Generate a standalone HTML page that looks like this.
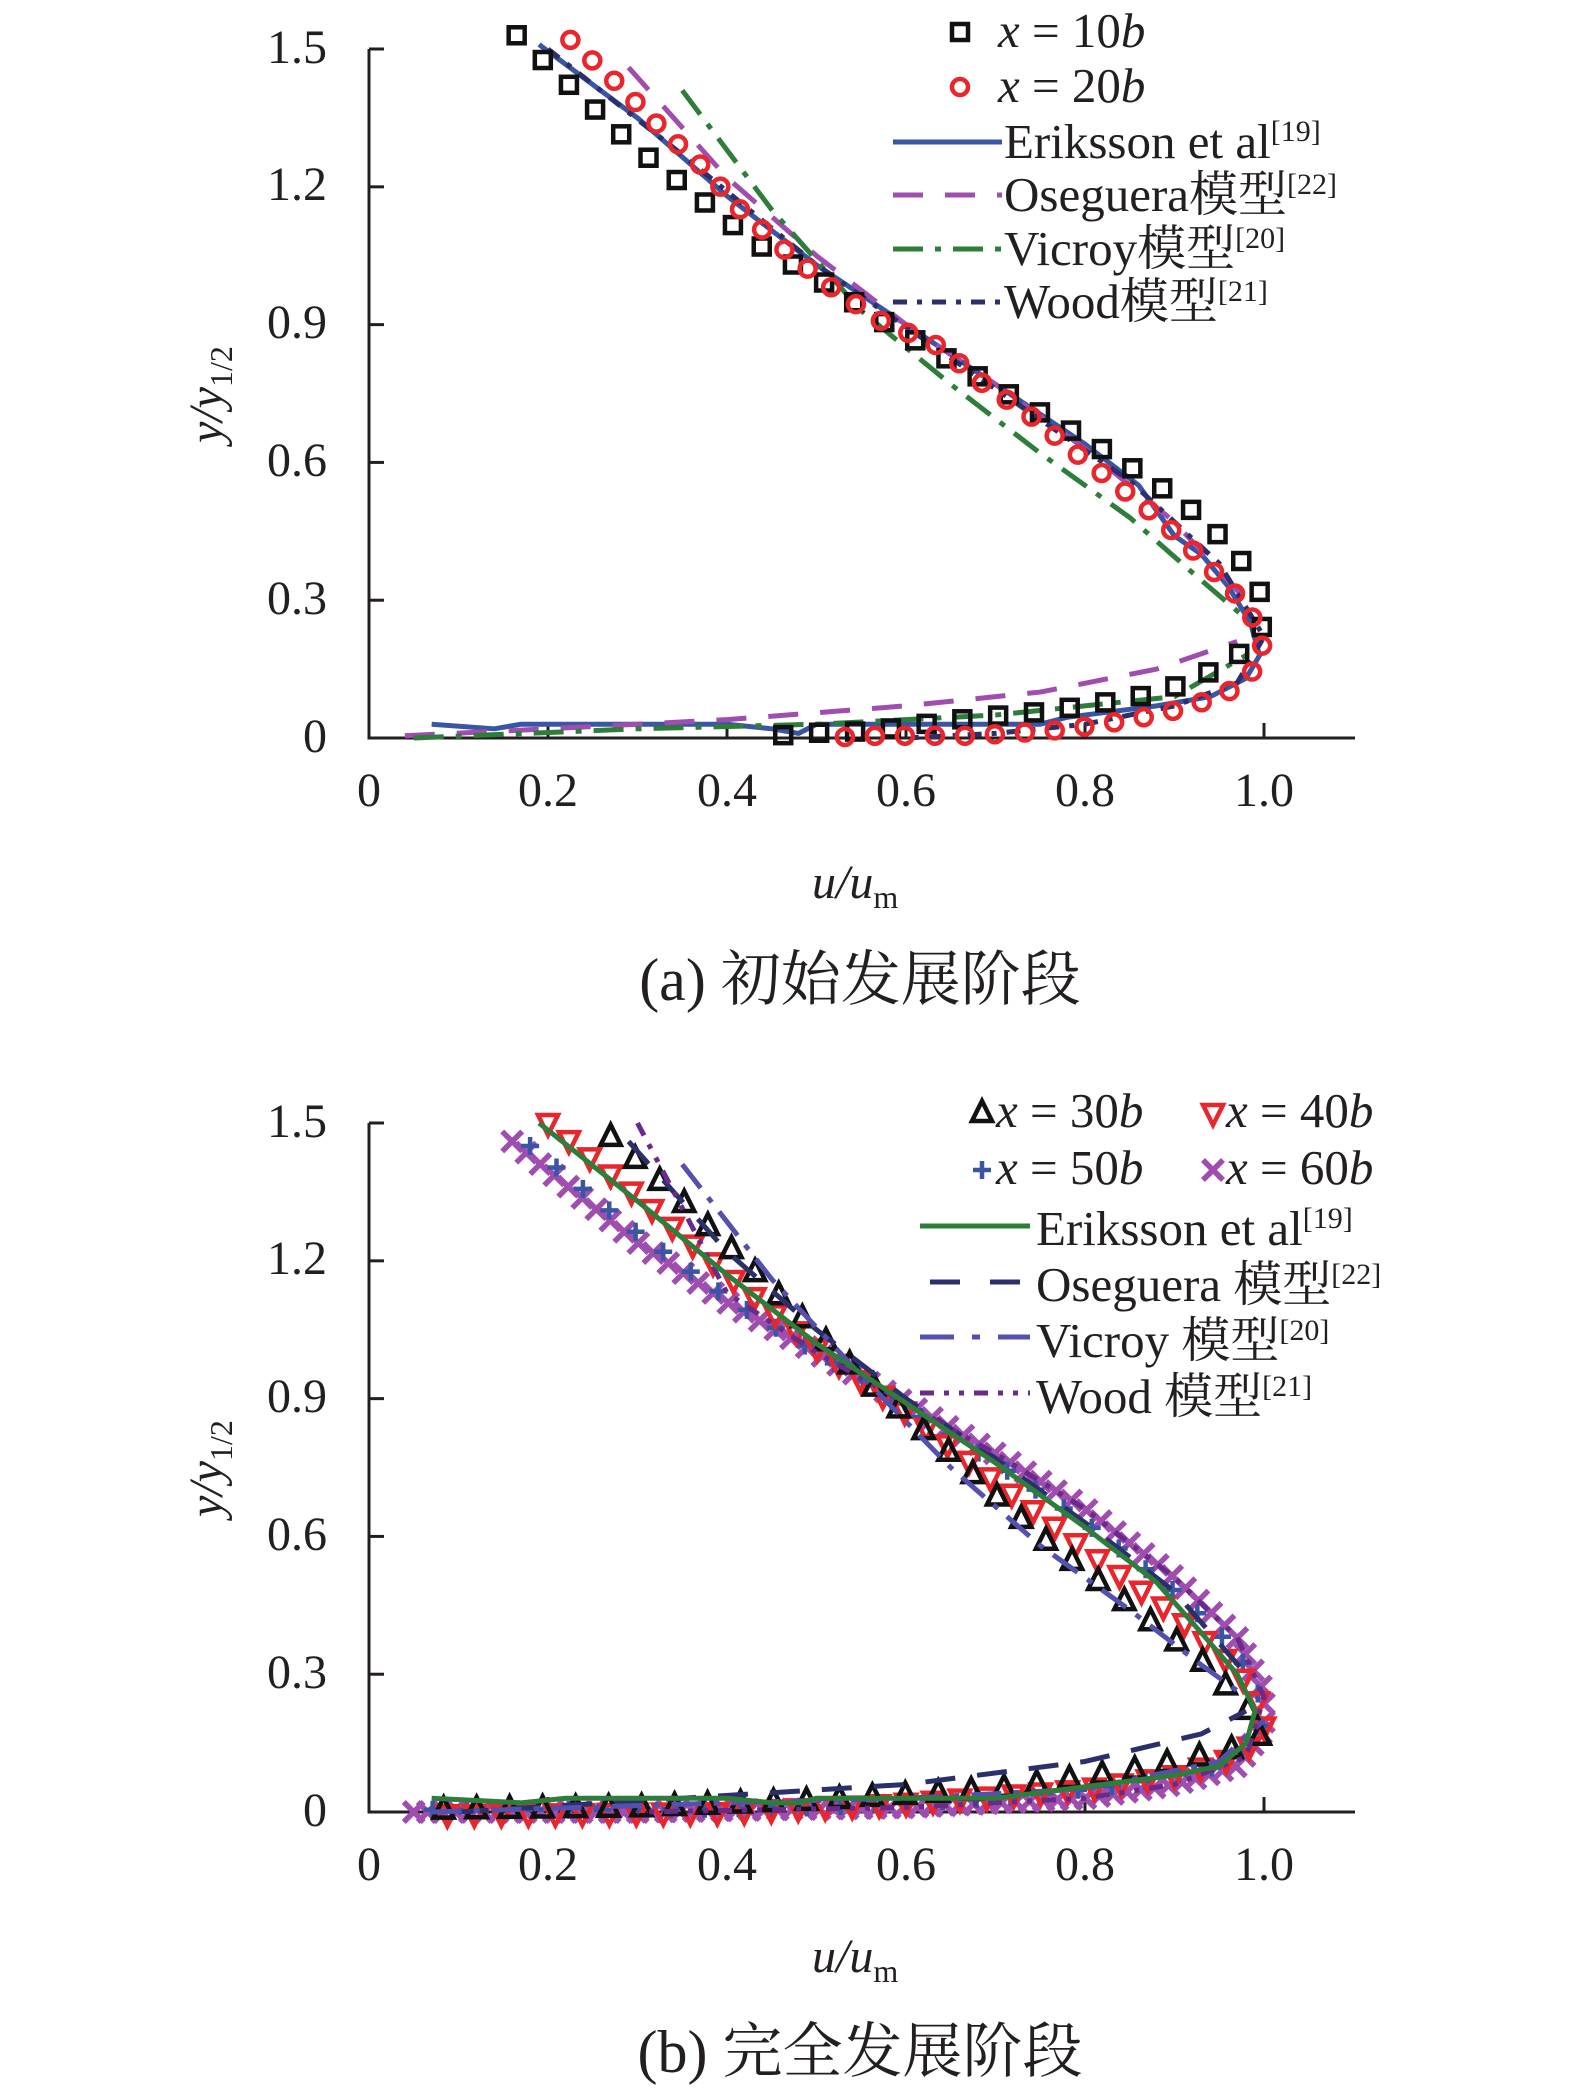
<!DOCTYPE html>
<html><head><meta charset="utf-8"><style>
html,body{margin:0;padding:0;background:#fff}
svg{display:block}
text{font-family:"Liberation Serif","Noto Serif CJK SC",serif;fill:#231f20}
</style></head><body>
<svg id="s" width="1575" height="2099" viewBox="0 0 1575 2099" xmlns="http://www.w3.org/2000/svg">
<g id="axes"></g>
<g font-size="48">
<text x="327" y="63" text-anchor="end">1.5</text>
<text x="327" y="200" text-anchor="end">1.2</text>
<text x="327" y="338" text-anchor="end">0.9</text>
<text x="327" y="476" text-anchor="end">0.6</text>
<text x="327" y="614" text-anchor="end">0.3</text>
<text x="327" y="752" text-anchor="end">0</text>
<text x="369" y="806" text-anchor="middle">0</text>
<text x="548" y="806" text-anchor="middle">0.2</text>
<text x="727" y="806" text-anchor="middle">0.4</text>
<text x="906" y="806" text-anchor="middle">0.6</text>
<text x="1085" y="806" text-anchor="middle">0.8</text>
<text x="1264" y="806" text-anchor="middle">1.0</text>
<text x="812" y="898" font-style="italic">u/u<tspan font-style="normal" font-size="32" dy="10">m</tspan></text>
<text transform="translate(222,443) rotate(-90)" font-style="italic">y/y<tspan font-style="normal" font-size="32" dy="10">1/2</tspan></text>
</g>
<text x="860" y="1000" font-size="60" text-anchor="middle">(a) 初始发展阶段</text>
<g font-size="49">
<text x="998" y="47"><tspan font-style="italic">x</tspan> = 10<tspan font-style="italic">b</tspan></text>
<text x="998" y="102"><tspan font-style="italic">x</tspan> = 20<tspan font-style="italic">b</tspan></text>
<text x="1004" y="158">Eriksson et al<tspan font-size="30" dy="-17">[19]</tspan></text>
<text x="1004" y="211">Oseguera模型<tspan font-size="30" dy="-17">[22]</tspan></text>
<text x="1004" y="265">Vicroy模型<tspan font-size="30" dy="-17">[20]</tspan></text>
<text x="1004" y="318">Wood模型<tspan font-size="30" dy="-17">[21]</tspan></text>
</g>
<g font-size="48">
<text x="327" y="1137" text-anchor="end">1.5</text>
<text x="327" y="1274" text-anchor="end">1.2</text>
<text x="327" y="1412" text-anchor="end">0.9</text>
<text x="327" y="1550" text-anchor="end">0.6</text>
<text x="327" y="1688" text-anchor="end">0.3</text>
<text x="327" y="1826" text-anchor="end">0</text>
<text x="369" y="1880" text-anchor="middle">0</text>
<text x="548" y="1880" text-anchor="middle">0.2</text>
<text x="727" y="1880" text-anchor="middle">0.4</text>
<text x="906" y="1880" text-anchor="middle">0.6</text>
<text x="1085" y="1880" text-anchor="middle">0.8</text>
<text x="1264" y="1880" text-anchor="middle">1.0</text>
<text x="812" y="1972" font-style="italic">u/u<tspan font-style="normal" font-size="32" dy="10">m</tspan></text>
<text transform="translate(222,1517) rotate(-90)" font-style="italic">y/y<tspan font-style="normal" font-size="32" dy="10">1/2</tspan></text>
</g>
<text x="860" y="2072" font-size="60" text-anchor="middle">(b) 完全发展阶段</text>
<g font-size="49">
<text x="996" y="1127"><tspan font-style="italic">x</tspan> = 30<tspan font-style="italic">b</tspan></text>
<text x="1226" y="1127"><tspan font-style="italic">x</tspan> = 40<tspan font-style="italic">b</tspan></text>
<text x="996" y="1184"><tspan font-style="italic">x</tspan> = 50<tspan font-style="italic">b</tspan></text>
<text x="1226" y="1184"><tspan font-style="italic">x</tspan> = 60<tspan font-style="italic">b</tspan></text>
<text x="1036" y="1245">Eriksson et al<tspan font-size="30" dy="-17">[19]</tspan></text>
<text x="1036" y="1301">Oseguera 模型<tspan font-size="30" dy="-17">[22]</tspan></text>
<text x="1036" y="1357">Vicroy 模型<tspan font-size="30" dy="-17">[20]</tspan></text>
<text x="1036" y="1413">Wood 模型<tspan font-size="30" dy="-17">[21]</tspan></text>
</g>
<g id="plot"></g>
</svg>
<script>
var NS="http://www.w3.org/2000/svg";
function el(t,a,p){var e=document.createElementNS(NS,t);for(var k in a)e.setAttribute(k,a[k]);(p||document.getElementById('plot')).appendChild(e);return e;}
var X0=369,SX=895,SY=459.3;
function px(u){return X0+u*SX}
function axes(y0){var g=document.getElementById('axes');
 el('path',{d:'M'+X0+' '+(y0-1.5*SY)+'H384M'+X0+' '+(y0-1.5*SY)+'V'+y0+'H1355',stroke:'#231f20','stroke-width':3,fill:'none'},g);
 for(var i=1;i<5;i++){var yy=y0-i*0.3*SY;el('path',{d:'M'+X0+' '+yy+'H384',stroke:'#231f20','stroke-width':3},g);}
 for(var i=1;i<=5;i++){var xx=px(i*0.2);el('path',{d:'M'+xx+' '+y0+'V'+(y0-15),stroke:'#231f20','stroke-width':3},g);}
}
axes(738);axes(1812);
function toPix(pts,y0){return pts.map(function(p){return [px(p[0]),y0-p[1]*SY]})}
function line(pts,y0,col,dash,w){var P=toPix(pts,y0);el('polyline',{points:P.map(function(p){return p.join(',')}).join(' '),fill:'none',stroke:col,'stroke-width':w||5,'stroke-dasharray':dash||'none','stroke-linejoin':'round'});}
function sample(pts,y0,step){var P=toPix(pts,y0),out=[P[0]],acc=0;
 for(var i=1;i<P.length;i++){var a=P[i-1],b=P[i],dx=b[0]-a[0],dy=b[1]-a[1],L=Math.hypot(dx,dy),t=0;
  while(acc+ (L-t) >= step){t+= step-acc;acc=0;out.push([a[0]+dx*t/L,a[1]+dy*t/L]);}
  acc+=L-t;}
 return out;}
function mk(type,x,y,col){
 if(type=='sq')el('rect',{x:x-8,y:y-8,width:16,height:16,fill:'none',stroke:col,'stroke-width':4.5});
 else if(type=='ci')el('circle',{cx:x,cy:y,r:8,fill:'none',stroke:col,'stroke-width':4.5});
 else if(type=='tu')el('polygon',{points:(x)+','+(y-12)+' '+(x-10)+','+(y+8)+' '+(x+10)+','+(y+8),fill:'none',stroke:col,'stroke-width':4.5});
 else if(type=='td')el('polygon',{points:(x)+','+(y+12)+' '+(x-10)+','+(y-8)+' '+(x+10)+','+(y-8),fill:'none',stroke:col,'stroke-width':4.5});
 else if(type=='pl')el('path',{d:'M'+(x-9)+' '+y+'h18M'+x+' '+(y-9)+'v18',stroke:col,'stroke-width':4.5});
 else if(type=='xx')el('path',{d:'M'+(x-10)+' '+(y-10)+'l20 20M'+(x+10)+' '+(y-10)+'l-20 20',stroke:col,'stroke-width':5.5});
}
function markers(pts,y0,step,type,col){sample(pts,y0,step).forEach(function(p){mk(type,p[0],p[1],col)})}
var BLK='#111',RED='#e8262b',BLU='#3a55a4',PUR='#a04db0',GRN='#2e7d3a',NAV='#2b2f6b',VIC='#5350b0',WOD='#6a2a8a';
var A=738;
line([[0.19,1.51],[0.3,1.35],[0.4,1.18],[0.5,1.03],[0.6,0.9],[0.7,0.77],[0.8,0.64],[0.86,0.55],[0.9,0.44],[0.93,0.4],[0.96,0.33],[0.985,0.25],[0.995,0.18],[0.98,0.13],[0.94,0.09],[0.88,0.07],[0.78,0.045],[0.75,0.03],[0.6,0.03],[0.5,0.03],[0.48,0.01],[0.45,0.02],[0.4,0.03],[0.3,0.03],[0.17,0.03],[0.14,0.02],[0.07,0.03]],A,BLU,null,5);
line([[0.29,1.46],[0.4,1.22],[0.5,1.05],[0.6,0.9],[0.7,0.77],[0.8,0.63],[0.9,0.47],[0.98,0.3]],A,PUR,'30,22',5);
line([[0.04,0.005],[0.2,0.02],[0.4,0.04],[0.6,0.07],[0.75,0.1],[0.88,0.15],[0.97,0.21]],A,PUR,'30,22',5);
line([[0.35,1.41],[0.45,1.15],[0.55,0.93],[0.65,0.77],[0.75,0.62],[0.85,0.48],[0.92,0.36],[0.98,0.26]],A,GRN,'30,12,6,12',5);
line([[0.05,0.0],[0.3,0.02],[0.5,0.03],[0.7,0.05],[0.9,0.09],[0.98,0.18]],A,GRN,'30,12,6,12',5);
line([[0.2,1.5],[0.35,1.27],[0.5,1.03],[0.7,0.76],[0.85,0.56],[0.95,0.38],[1.0,0.22],[0.97,0.12],[0.9,0.07],[0.8,0.03],[0.7,0.01],[0.6,0.0]],A,NAV,'14,10,5,10',5);
markers([[0.165,1.53],[0.23,1.41],[0.295,1.29],[0.36,1.19],[0.43,1.08],[0.51,0.99],[0.58,0.9],[0.66,0.81],[0.74,0.72],[0.81,0.64],[0.875,0.56],[0.93,0.48],[0.97,0.4],[0.995,0.32],[1.0,0.25],[0.985,0.2],[0.955,0.16],[0.915,0.12],[0.86,0.09],[0.8,0.07],[0.74,0.055],[0.68,0.045],[0.62,0.03],[0.56,0.015],[0.48,0.01],[0.435,0.0]],A,36,'sq',BLK);
markers([[0.225,1.52],[0.28,1.42],[0.33,1.32],[0.375,1.24],[0.415,1.15],[0.46,1.07],[0.51,0.99],[0.57,0.91],[0.64,0.85],[0.68,0.78],[0.74,0.7],[0.79,0.62],[0.83,0.56],[0.875,0.49],[0.915,0.42],[0.95,0.35],[0.98,0.29],[0.995,0.23],[1.0,0.18],[0.985,0.14],[0.96,0.1],[0.92,0.07],[0.88,0.05],[0.82,0.03],[0.76,0.015],[0.67,0.005],[0.57,0.005],[0.5,0.0]],A,30,'ci',RED);
mk('sq',960,32,BLK);mk('ci',960,87,RED);
el('line',{x1:893,y1:142,x2:1002,y2:142,stroke:BLU,'stroke-width':5});
el('line',{x1:893,y1:195,x2:1002,y2:195,stroke:PUR,'stroke-width':5,'stroke-dasharray':'30,22'});
el('line',{x1:893,y1:249,x2:1002,y2:249,stroke:GRN,'stroke-width':5,'stroke-dasharray':'30,12,6,12'});
el('line',{x1:893,y1:302,x2:1002,y2:302,stroke:NAV,'stroke-width':5,'stroke-dasharray':'14,10,5,10'});
var B=1812;
markers([[0.05,0.0],[0.3,0.0],[0.6,0.01],[0.8,0.03],[0.9,0.06],[0.97,0.1],[1.0,0.18]],B,14,'xx',PUR);
markers([[0.16,1.46],[0.3,1.24],[0.4,1.11],[0.5,1.0],[0.6,0.89],[0.7,0.78],[0.8,0.66],[0.9,0.51],[0.97,0.38],[1.0,0.26],[1.0,0.18]],B,18,'xx',PUR);
markers([[0.18,1.45],[0.3,1.26],[0.4,1.12],[0.5,1.0],[0.6,0.88],[0.7,0.76],[0.8,0.63],[0.9,0.48],[0.97,0.35],[1.0,0.23],[0.99,0.15],[0.95,0.1],[0.85,0.06],[0.7,0.03],[0.5,0.01],[0.3,0.005],[0.07,0.005]],B,34,'pl',BLU);
markers([[0.2,1.5],[0.3,1.34],[0.4,1.17],[0.5,1.01],[0.6,0.87],[0.7,0.72],[0.8,0.57],[0.9,0.43],[0.97,0.31],[1.0,0.22],[1.0,0.17],[0.97,0.12],[0.9,0.08],[0.8,0.05],[0.6,0.02],[0.4,0.0],[0.07,-0.005]],B,27,'td',RED);
markers([[0.27,1.47],[0.35,1.33],[0.45,1.14],[0.55,0.95],[0.65,0.78],[0.75,0.6],[0.85,0.45],[0.93,0.33],[0.97,0.25],[1.0,0.18],[0.99,0.15],[0.95,0.13],[0.85,0.09],[0.7,0.05],[0.5,0.025],[0.3,0.01],[0.07,0.005]],B,33,'tu',BLK);
line([[0.29,1.46],[0.4,1.22],[0.5,1.05],[0.6,0.9],[0.7,0.77],[0.8,0.63],[0.9,0.48],[0.98,0.3]],B,NAV,'30,22',5);
line([[0.1,0.0],[0.35,0.03],[0.6,0.06],[0.8,0.11],[0.93,0.17],[0.98,0.22]],B,NAV,'30,22',5);
line([[0.35,1.41],[0.45,1.16],[0.55,0.95],[0.65,0.75],[0.75,0.58],[0.85,0.44],[0.93,0.32],[0.98,0.25]],B,VIC,'30,12,6,12',5);
line([[0.07,0.0],[0.4,0.02],[0.6,0.03],[0.8,0.05],[0.95,0.11],[1.0,0.2]],B,VIC,'30,12,6,12',5);
line([[0.3,1.5],[0.4,1.13],[0.5,1.0],[0.6,0.89],[0.7,0.78],[0.8,0.66],[0.9,0.51],[0.97,0.38],[1.0,0.25],[0.98,0.12],[0.9,0.06],[0.8,0.03],[0.6,0.01],[0.3,0.0]],B,WOD,'14,10,5,10,5,10',5);
line([[0.19,1.5],[0.3,1.33],[0.4,1.17],[0.5,1.02],[0.6,0.89],[0.7,0.76],[0.8,0.62],[0.88,0.5],[0.93,0.39],[0.97,0.3],[0.99,0.22],[0.98,0.15],[0.95,0.1],[0.9,0.08],[0.8,0.055],[0.7,0.03],[0.6,0.03],[0.5,0.03],[0.48,0.02],[0.45,0.02],[0.4,0.03],[0.3,0.03],[0.22,0.03],[0.17,0.02],[0.07,0.03]],B,GRN,null,5);
mk('tu',982,1113,BLK);mk('td',1213,1113,RED);mk('pl',982,1170,BLU);mk('xx',1213,1170,PUR);
el('line',{x1:920,y1:1226,x2:1030,y2:1226,stroke:GRN,'stroke-width':5});
el('line',{x1:930,y1:1282,x2:1030,y2:1282,stroke:NAV,'stroke-width':5,'stroke-dasharray':'30,30'});
el('line',{x1:920,y1:1337,x2:1030,y2:1337,stroke:VIC,'stroke-width':5,'stroke-dasharray':'34,18,8,18'});
el('line',{x1:920,y1:1393,x2:1030,y2:1393,stroke:WOD,'stroke-width':5,'stroke-dasharray':'14,10,5,10,5,10'});
</script>
</body></html>
